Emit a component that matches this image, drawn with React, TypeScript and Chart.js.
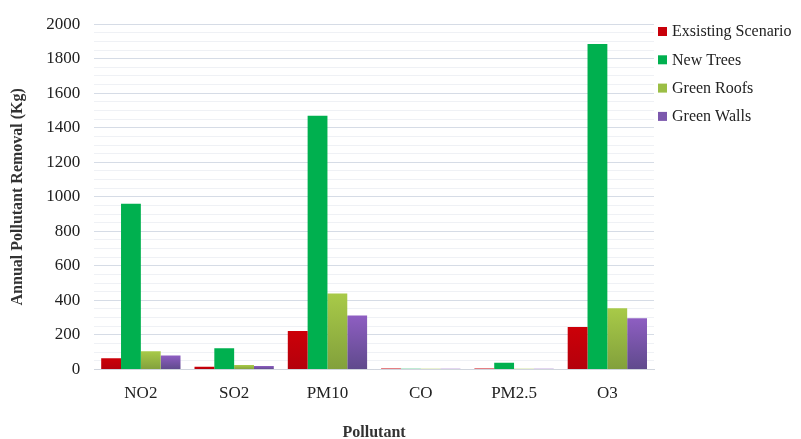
import React, { useEffect, useRef } from "react";
import { Chart, registerables } from "chart.js";

Chart.register(...registerables);

const categories = ["NO2", "SO2", "PM10", "CO", "PM2.5", "O3"];
const seriesNames = ["Exsisting Scenario", "New Trees", "Green Roofs", "Green Walls"];
const existingScenario = [65, 15, 222, 5, 5, 245];
const newTrees = [960, 122, 1470, 4, 38, 1885];
const greenRoofs = [105, 25, 440, 4, 4, 355];
const greenWalls = [80, 20, 312, 4, 4, 297];
const yTickLabels = [0, 200, 400, 600, 800, 1000, 1200, 1400, 1600, 1800, 2000];
const legendColors = ["#c8000a", "#00b04f", "#9bbe45", "#7c58ad"];

const FONT = "'Liberation Serif', 'Times New Roman', serif";

function barGrad(top: string, bottom: string) {
  return (ctx: any) => {
    const chart = ctx.chart;
    const area = chart.chartArea;
    const ys = chart.scales && chart.scales.y;
    if (!area || !ys || ctx.type !== "data") return top;
    const v = ctx.raw as number;
    const yTop = ys.getPixelForValue(v);
    const yBot = ys.getPixelForValue(0);
    if (!isFinite(yTop) || yBot - yTop < 1) return top;
    const g = chart.ctx.createLinearGradient(0, yTop, 0, yBot);
    g.addColorStop(0, top);
    g.addColorStop(1, bottom);
    return g;
  };
}

const sideLegend = {
  id: "sideLegend",
  afterDraw(chart: any) {
    const c = chart.ctx;
    const x0 = chart.chartArea.right + 4;
    c.save();
    c.font = `16px ${FONT}`;
    c.textBaseline = "middle";
    c.textAlign = "left";
    chart.data.datasets.forEach((d: any, i: number) => {
      const y = 32 + 28.3 * i;
      c.fillStyle = legendColors[i];
      c.fillRect(x0, y - 5, 9, 9);
      c.fillStyle = "#222";
      c.fillText(d.label, x0 + 14, y);
    });
    c.restore();
  },
};

export default function App() {
  const ref = useRef<HTMLCanvasElement | null>(null);
  useEffect(() => {
    if (!ref.current) return;
    const chart = new Chart(ref.current, {
      type: "bar",
      data: {
        labels: categories,
        datasets: [
          { label: seriesNames[0], data: existingScenario, backgroundColor: barGrad("#cc0008", "#b4000c") as any },
          { label: seriesNames[1], data: newTrees, backgroundColor: "#00b04f" },
          { label: seriesNames[2], data: greenRoofs, backgroundColor: barGrad("#a8ca48", "#82a03c") as any },
          { label: seriesNames[3], data: greenWalls, backgroundColor: barGrad("#8e5ec2", "#5f4a8c") as any },
        ],
      },
      plugins: [sideLegend],
      options: {
        animation: false,
        responsive: true,
        maintainAspectRatio: false,
        layout: { padding: { top: 8, right: 147, left: 8, bottom: -3 } },
        datasets: { bar: { categoryPercentage: 0.85, barPercentage: 1 } } as any,
        plugins: {
          legend: { display: false },
          tooltip: { enabled: false },
        },
        scales: {
          x: {
            grid: { display: false },
            border: { display: true, color: "#d0d5dd" },
            ticks: { color: "#222", font: { family: FONT, size: 17 }, padding: 6 },
            title: {
              display: true,
              text: "Pollutant",
              color: "#333",
              font: { family: FONT, size: 16, weight: "bold" },
              padding: { top: 13, bottom: 0 },
            },
          },
          y: {
            min: 0,
            max: 2000,
            border: { display: false },
            grid: {
              drawTicks: false,
              color: (ctx: any) =>
                yTickLabels.includes(ctx.tick && ctx.tick.value) ? "#d6dce6" : "#eff1f5",
            },
            ticks: {
              stepSize: 50,
              autoSkip: false,
              padding: 14,
              color: "#222",
              font: { family: FONT, size: 17 },
              callback: (v: any) => (yTickLabels.includes(Number(v)) ? String(v) : ""),
            },
            title: {
              display: true,
              text: "Annual Pollutant Removal (Kg)",
              color: "#333",
              font: { family: FONT, size: 16, weight: "bold" },
              padding: { top: 0, bottom: 5 },
            },
          },
        },
      },
    });
    return () => chart.destroy();
  }, []);
  return (
    <div style={{ position: "absolute", left: 0, top: 0, width: 801, height: 439 }}>
      <canvas ref={ref} />
    </div>
  );
}
